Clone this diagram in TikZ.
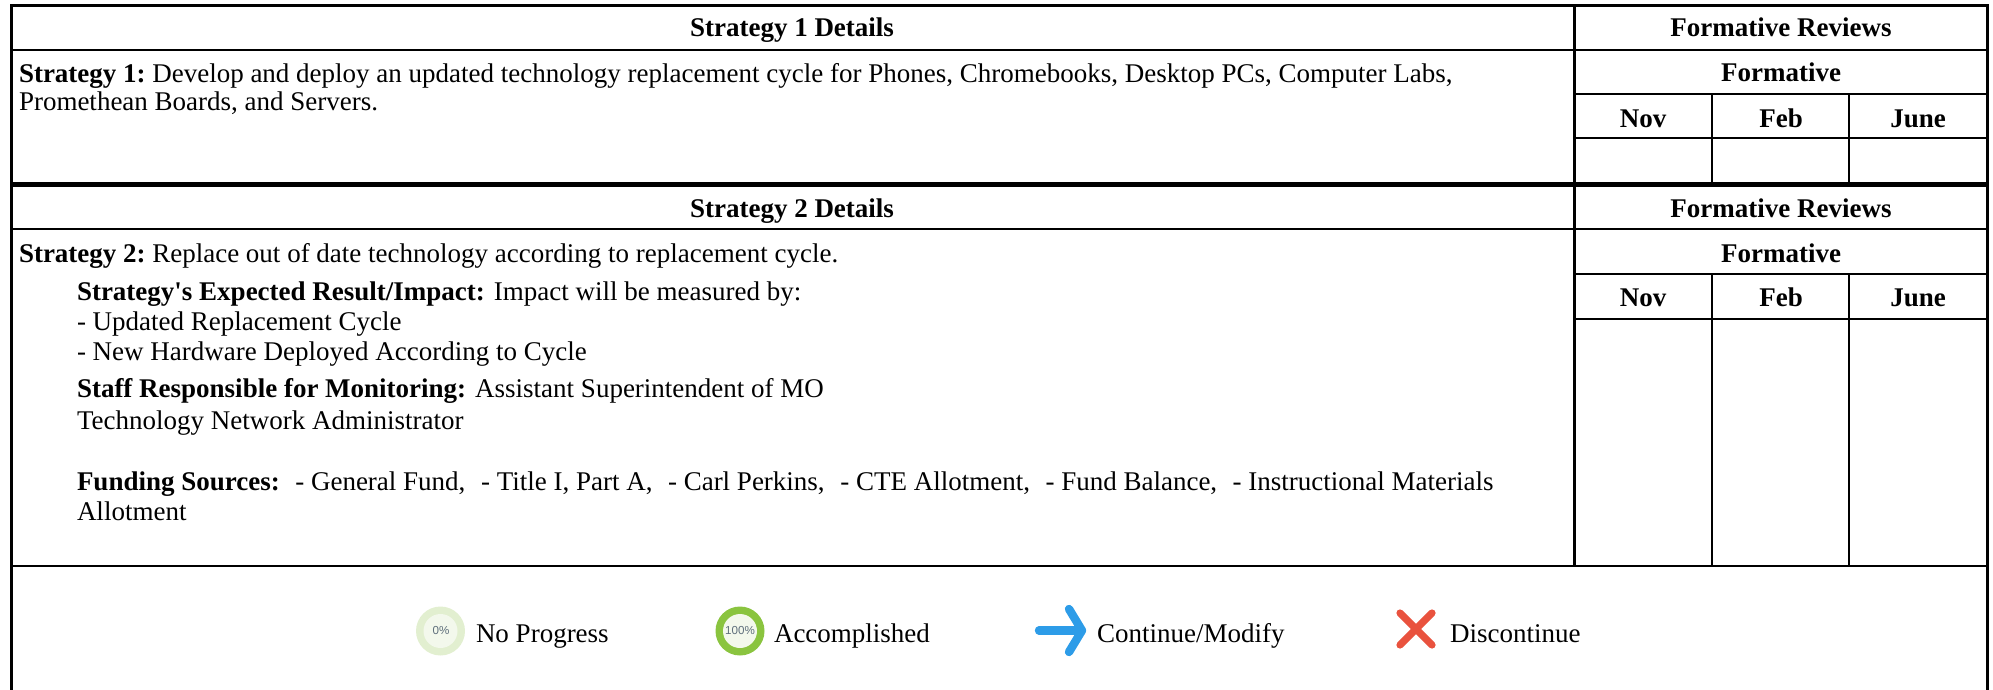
\documentclass[tikz,border=0pt]{standalone}
\usepackage{fontspec}
\setmainfont{Liberation Serif}
\newfontfamily\pctfont{Liberation Sans}
\definecolor{ringlight}{HTML}{E2EFD0}
\definecolor{ringfill}{HTML}{F3F8EC}
\definecolor{ringgreen}{HTML}{8AC43F}
\definecolor{pctgrey}{HTML}{5F6F7C}
\definecolor{arrowblue}{HTML}{2D9CE8}
\definecolor{crossred}{HTML}{E9523E}
\newcommand{\gapfund}{\ \ \hspace{1pt}}
\tikzset{
  rule/.style={line width=1.2pt,black},
  txt/.style={anchor=base west,inner sep=0pt,outer sep=0pt,font=\fontsize{13.5}{16}\selectfont},
  head/.style={anchor=base,inner sep=0pt,outer sep=0pt,font=\fontsize{13.5}{16}\selectfont\bfseries},
  legend/.style={anchor=base west,inner sep=0pt,outer sep=0pt,font=\fontsize{13.5}{16}\selectfont},
  pct/.style={inner sep=0pt,outer sep=0pt,text=pctgrey,font=\fontsize{5.8}{7}\selectfont\pctfont},
}
\begin{document}
\begin{tikzpicture}[x=0.5pt,y=-0.5pt]
\useasboundingbox (0,0) rectangle (1993,690);
% rules
\draw[rule] (1987.5,690) -- (1987.5,5.5) -- (11.5,5.5) -- (11.5,690);
\draw[rule] (1574.5,5.5) -- (1574.5,566);
\draw[rule] (11.5,50) -- (1987.5,50);
\draw[rule] (1574.5,94) -- (1987.5,94);
\draw[rule] (1574.5,138) -- (1987.5,138);
\draw[rule] (1712,94) -- (1712,183);
\draw[rule] (1849,94) -- (1849,183);
\draw[rule] (11.5,183.5) -- (1987.5,183.5);
\draw[rule] (11.5,185.5) -- (1987.5,185.5);
\draw[rule] (11.5,229) -- (1987.5,229);
\draw[rule] (1574.5,274) -- (1987.5,274);
\draw[rule] (1574.5,319) -- (1987.5,319);
\draw[rule] (1712,274) -- (1712,566);
\draw[rule] (1849,274) -- (1849,566);
\draw[rule] (11.5,566) -- (1987.5,566);
% headers
\node[head] (h1) at (792,37) {Strategy 1 Details};
\node[head] (f1) at (1781,37) {Formative Reviews};
\node[head] (g1) at (1781,82) {Formative};
\node[head] (n1) at (1643,127) {Nov};
\node[head] (b1) at (1781,127) {Feb};
\node[head] (j1) at (1918,127) {June};
\node[head] (h2) at (792,217) {Strategy 2 Details};
\node[head] (f2) at (1781,217) {Formative Reviews};
\node[head] (g2) at (1781,262) {Formative};
\node[head] (n2) at (1643,306) {Nov};
\node[head] (b2) at (1781,306) {Feb};
\node[head] (j2) at (1918,306) {June};
% body
\node[txt] (s1a) at (19,82.5) {\textbf{Strategy 1:}\hspace{-1.2pt} Develop and deploy an updated technology replacement cycle for Phones, Chromebooks, Desktop PCs, Computer Labs,};
\node[txt] (s1b) at (19,110.5) {Promethean Boards, and Servers.};
\node[txt] (s2a) at (19,262.5) {\textbf{Strategy 2:}\hspace{-1.2pt} Replace out of date technology according to replacement cycle.};
\node[txt] (r1) at (77,300) {\textbf{Strategy\textquotesingle s Expected Result/Impact:} Impact will be measured by:};
\node[txt] (r2) at (77,330) {- Updated Replacement Cycle};
\node[txt] (r3) at (77,360) {- New Hardware Deployed According to Cycle};
\node[txt] (m1) at (77,397.5) {\textbf{Staff Responsible for Monitoring:} Assistant Superintendent of MO};
\node[txt] (m2) at (77,429.5) {Technology Network Administrator};
\node[txt] (u1) at (77,490.5) {\textbf{Funding Sources:}\gapfund - General Fund,\gapfund - Title I, Part A,\gapfund - Carl Perkins,\gapfund - CTE Allotment,\gapfund - Fund Balance,\gapfund - Instructional Materials};
\node[txt] (u2) at (77,520.5) {Allotment};
% legend
\fill[ringlight] (440.5,631) circle (24.5);
\fill[ringfill] (440.5,631) circle (17);
\node[pct] (p0) at (441,631) {0\%};
\node[legend] (l0) at (476,642) {No Progress};
\fill[ringgreen] (740,631) circle (24.5);
\fill[ringfill] (740,631) circle (17);
\node[pct] (p1) at (740,631) {100\%};
\node[legend] (l1) at (774,642) {Accomplished};
\draw[arrowblue,line width=4.2pt,line cap=round] (1039,630.5) -- (1080,630.5);
\draw[arrowblue,line width=4.2pt,line cap=round,line join=round] (1069,609) -- (1082,630.5) -- (1069,652);
\node[legend] (l2) at (1097,642) {Continue/Modify};
\draw[crossred,line width=3.6pt,line cap=round] (1400,613) -- (1432,645);
\draw[crossred,line width=3.6pt,line cap=round] (1432,613) -- (1400,645);
\node[legend] (l3) at (1450,642) {Discontinue};
\end{tikzpicture}
\end{document}
